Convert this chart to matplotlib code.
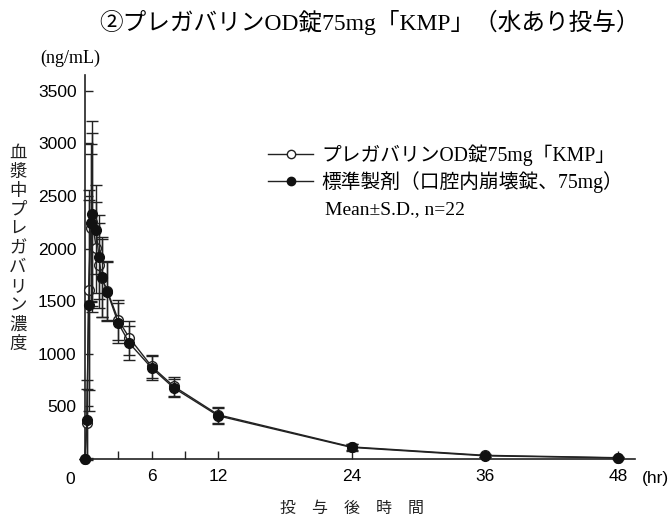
import matplotlib
matplotlib.use("Agg")
import matplotlib.pyplot as plt
from matplotlib.lines import Line2D

# ---- data ----
time_hr = [0, 0.17, 0.33, 0.5, 0.67, 1, 1.25, 1.5, 2, 3, 4, 6, 8, 12, 24, 36, 48]
test_mean = [0, 340, 1610, 2200, 2250, 2010, 1840, 1720, 1600, 1320, 1150, 880, 690, 420, 115, 35, 12]
test_sd = [0, 330, 950, 700, 850, 430, 400, 370, 280, 190, 160, 110, 90, 75, 30, 12, 6]
ref_mean = [0, 370, 1460, 2240, 2330, 2180, 1920, 1730, 1590, 1290, 1100, 865, 675, 410, 110, 30, 10]
ref_sd = [0, 380, 1000, 750, 880, 420, 400, 380, 280, 190, 160, 110, 90, 75, 30, 12, 6]

title = "②プレガバリンOD錠75mg「KMP」（水あり投与）"
test_label = "プレガバリンOD錠75mg「KMP」"
ref_label = "標準製剤（口腔内崩壊錠、75mg）"
note = "Mean±S.D., n=22"
y_label = "血漿中プレガバリン濃度"
x_label = "投　与　後　時　間"
unit_y = "(ng/mL)"
unit_x = "(hr)"
x_ticks = [0, 3, 6, 9, 12, 24, 36, 48]
x_ticklabels = ["", "", "6", "", "12", "24", "36", "48"]
y_ticks = [0, 500, 1000, 1500, 2000, 2500, 3000, 3500]
y_ticklabels = ["", "500", "1000", "1500", "2000", "2500", "3000", "3500"]

JP_SERIF = ["Liberation Serif", "Noto Sans CJK JP"]
JP_SANS = ["Noto Sans CJK JP", "DejaVu Sans"]
NUM = ["Liberation Sans Narrow", "Liberation Sans"]

W, H = 672, 522
fig = plt.figure(figsize=(W / 100, H / 100), dpi=100)
ax = fig.add_axes([85 / W, 1 - 459 / H, (635 - 85) / W, (459 - 75) / H])

ax.errorbar(time_hr, test_mean, yerr=test_sd, color="#222222", lw=1.0,
            marker="o", ms=7, mfc="white", mec="#222222", mew=1.0,
            ecolor="#222222", elinewidth=1.0, capsize=4.5, capthick=1.0,
            zorder=3, clip_on=False)
ax.errorbar(time_hr, ref_mean, yerr=ref_sd, color="#222222", lw=1.0,
            marker="o", ms=7, mfc="#111111", mec="#111111",
            ecolor="#222222", elinewidth=1.0, capsize=4.5, capthick=1.0,
            zorder=4, clip_on=False)

ax.set_xlim(0, 49.5)
ax.set_ylim(0, 3650)
for s in ("top", "right"):
    ax.spines[s].set_visible(False)
for s in ("left", "bottom"):
    ax.spines[s].set_linewidth(1.2)
    ax.spines[s].set_color("#222222")

ax.set_xticks(x_ticks)
ax.set_xticklabels(x_ticklabels, family=NUM, fontsize=12.5)
ax.set_yticks(y_ticks)
ax.set_yticklabels(y_ticklabels, family=NUM, fontsize=12.5)
ax.tick_params(direction="in", length=6, width=1.0, color="#222222", pad=7)
ax.tick_params(axis="y", pad=6)

# corner "0" label
ax.annotate("0", xy=(0, 0), xycoords="data", xytext=(-11, -9),
            textcoords="offset points", ha="center", va="top",
            family=NUM, fontsize=12.5)
ax.annotate(unit_x, xy=(1, 0), xycoords="axes fraction", xytext=(5, -9),
            textcoords="offset points", ha="left", va="top",
            family=NUM, fontsize=12.5)

fig.text(370 / W, 1 - 22 / H, title, ha="center", va="center",
         family=JP_SERIF, fontsize=17)
fig.text(40 / W, 1 - 58 / H, unit_y, ha="left", va="center",
         family=JP_SERIF, fontsize=13)
fig.text(18 / W, 1 - 248 / H, "\n".join(y_label), ha="center", va="center",
         family=JP_SANS, fontsize=12.5, linespacing=1.08, color="#222222")
fig.text(352 / W, 1 - 508 / H, x_label, ha="center", va="center",
         family=JP_SANS, fontsize=11.5, color="#222222")

h_test = Line2D([], [], color="#222222", lw=1.0, marker="o", ms=6,
                mfc="white", mec="#222222")
h_ref = Line2D([], [], color="#222222", lw=1.0, marker="o", ms=6,
               mfc="#111111", mec="#111111")
leg = ax.legend([h_test, h_ref], [test_label, ref_label], loc="upper left",
                bbox_to_anchor=(268 / W, 1 - 144 / H),
                bbox_transform=fig.transFigure, frameon=False,
                handlelength=2.3, handletextpad=0.4, labelspacing=0.3,
                prop={"family": JP_SERIF, "size": 14.2}, borderpad=0,
                borderaxespad=0)
fig.text(325 / W, 1 - 210 / H, note, ha="left", va="center",
         family=JP_SERIF, fontsize=14)

fig.savefig("out.png", dpi=100)
